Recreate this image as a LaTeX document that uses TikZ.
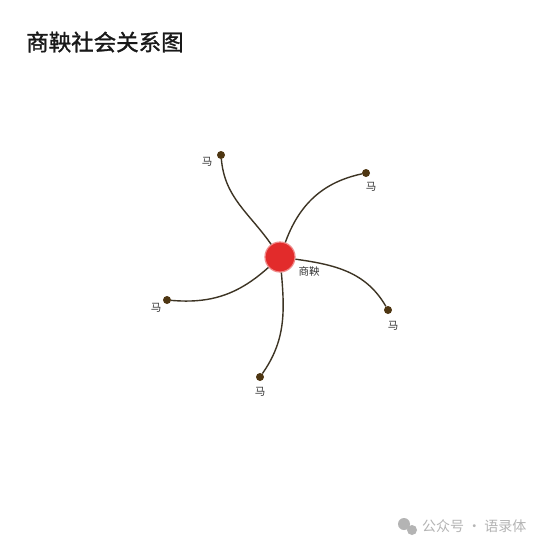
\documentclass[tikz,border=0pt]{standalone}
\usepackage{fontspec}
\newfontfamily\cjk{Noto Sans CJK SC}
\newfontfamily\cjktitle[FakeBold=1.3]{Noto Sans CJK SC}

\definecolor{hubred}{HTML}{E22B2B}
\definecolor{leafbrown}{HTML}{4E3612}
\definecolor{linkbrown}{HTML}{3D3424}
\definecolor{taggray}{HTML}{333333}
\definecolor{markgray}{HTML}{B4B4B4}

\begin{document}
\begin{tikzpicture}[x=1pt, y=1pt,
  hub/.style={circle, fill=hubred, draw=hubred!55, line width=1.2pt, minimum size=30pt, inner sep=0pt},
  leaf/.style={circle, fill=leafbrown, minimum size=8pt, inner sep=0pt},
  tag/.style={font=\cjk\fontsize{10.5}{12}\selectfont, text=taggray, inner sep=0pt},
  link/.style={draw=linkbrown, line width=1.4pt}]
\fill[white] (0,0) rectangle (550,-550);
\useasboundingbox (0,0) rectangle (550,-550);

\node[font=\cjktitle\fontsize{22.5}{26}\selectfont, text=black!90, anchor=west, inner sep=0pt] (title) at (26,-42) {商鞅社会关系图};

\node[hub] (shang) at (280,-257) {};
\node[tag] (shangtag) at (309,-271) {商鞅};

\node[leaf] (ma1) at (221,-155) {};
\node[leaf] (ma2) at (366,-173) {};
\node[leaf] (ma3) at (388,-310) {};
\node[leaf] (ma4) at (260,-377) {};
\node[leaf] (ma5) at (167,-300) {};

\node[tag] (tag1) at (207,-162) {马};
\node[tag] (tag2) at (371,-187) {马};
\node[tag] (tag3) at (393,-326) {马};
\node[tag] (tag4) at (260,-392) {马};
\node[tag] (tag5) at (156,-308) {马};

\draw[link] (shang) to[out=125, in=275] (ma1);
\draw[link] (shang) to[out=70, in=192] (ma2);
\draw[link] (shang) to[out=-8, in=120] (ma3);
\draw[link] (shang) to[out=-85, in=55] (ma4);
\draw[link] (shang) to[out=222, in=-5] (ma5);

\fill[markgray] (404,-524) circle (6);
\fill[markgray] (412,-530) circle (5);
\node[font=\cjk\fontsize{14}{16}\selectfont, text=markgray, anchor=west, inner sep=0pt] (mark) at (422,-526) {公众号 · 语录体};
\end{tikzpicture}
\end{document}
